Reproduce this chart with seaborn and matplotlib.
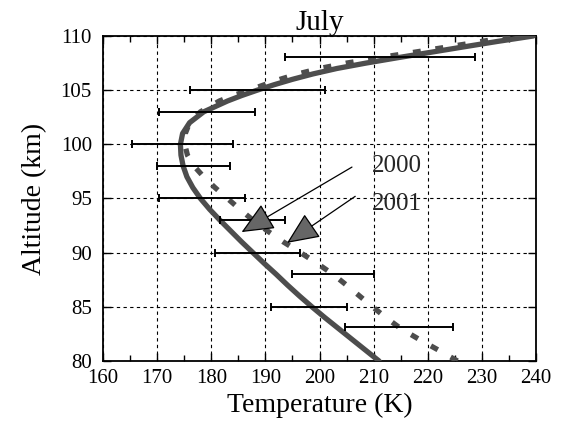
import matplotlib

matplotlib.use("Agg")
import matplotlib.pyplot as plt
import numpy as np
import pandas as pd
import seaborn as sns
from matplotlib.ticker import MultipleLocator

# 2000 profile (solid)
alt_2000 = [80, 81, 82, 83, 84, 85, 86, 87, 88, 89, 90, 91, 92, 93, 94, 95,
            96, 97, 98, 99, 100, 101, 102, 103, 104, 104.5, 105, 105.5, 106,
            106.5, 107, 107.5, 108, 108.5, 109, 109.5, 110]
temp_2000 = [211, 208.5, 206, 203.5, 201, 198.6, 196.3, 194.1, 192, 189.8,
             187.7, 185.6, 183.6, 181.6, 179.7, 178, 176.6, 175.5, 174.8,
             174.4, 174.3, 174.7, 176, 178.6, 183, 185.6, 188.5, 191.6, 195,
             198.8, 203.2, 208.6, 214.5, 220.6, 226.7, 232.9, 239.5]

# 2001 profile (dashed)
alt_2001 = [80, 81, 82, 83, 84, 85, 86, 87, 88, 89, 90, 91, 92, 93, 94, 95,
            96, 97, 98, 99, 100, 101, 102, 103, 104, 104.5, 105, 105.5, 106,
            106.5, 107, 107.5, 108, 108.5, 109, 109.5, 110]
temp_2001 = [225.5, 222, 218.4, 215, 212.3, 209.8, 207.4, 205, 202.5, 199.6,
             196.5, 193.3, 190.4, 187.7, 185.3, 183, 180.7, 178.6, 176.8,
             175.6, 175.1, 175.2, 176, 178, 181.5, 184, 187, 189.8, 192.7,
             196, 200, 205, 211, 217.5, 223.8, 230, 236]

# horizontal error bars (altitude, low, high)
err_alt = [108.1, 105, 103, 100, 98, 95, 93, 90, 88, 85, 83.1]
err_lo = [193.6, 176.0, 170.4, 165.4, 169.9, 170.4, 181.6, 180.7, 194.9, 191.0, 204.7]
err_hi = [228.8, 201.0, 188.1, 184.0, 183.5, 186.2, 193.6, 196.4, 210.1, 205.0, 224.7]

# arrow annotations: label, text position, arrow start, arrow tip
labels = ["2000", "2001"]
label_pos = [(209.7, 98.0), (209.7, 94.5)]
arrow_start = [(206.0, 97.9), (206.6, 95.2)]
arrow_tip = [(185.6, 91.9), (194.0, 90.9)]

df0 = pd.DataFrame({"T": temp_2000, "z": alt_2000})
df1 = pd.DataFrame({"T": temp_2001, "z": alt_2001})

sns.set_theme(style="ticks")
plt.rcParams["font.family"] = ["Liberation Serif", "DejaVu Serif"]

fig = plt.figure(figsize=(5.63, 4.26), dpi=100)
ax = fig.add_axes([0.183, 0.1526, 0.769, 0.7629])

ax.grid(True, which="major", color="black", linestyle=(0, (3, 3)), linewidth=0.8)
ax.set_axisbelow(True)

sns.lineplot(data=df0, x="T", y="z", sort=False, estimator=None,
             color="#4d4d4d", linewidth=3.8, ax=ax, zorder=3)
sns.lineplot(data=df1, x="T", y="z", sort=False, estimator=None,
             color="#4d4d4d", linewidth=3.8, linestyle=(0, (1.5, 2.8)),
             ax=ax, zorder=3)

lo = np.array(err_lo)
hi = np.array(err_hi)
ax.errorbar((lo + hi) / 2, err_alt, xerr=(hi - lo) / 2, fmt="none",
            ecolor="black", elinewidth=1.4, capsize=2.8, capthick=1.4, zorder=4)

for lab, tp, st, tip in zip(labels, label_pos, arrow_start, arrow_tip):
    ax.text(tp[0], tp[1], lab, fontsize=18, va="center", ha="left", zorder=5)
    ax.annotate("", xy=tip, xytext=st,
                arrowprops=dict(arrowstyle="-|>,head_length=1.7,head_width=0.75",
                                fc="#666666", ec="black", lw=0.9,
                                shrinkA=0, shrinkB=0),
                zorder=5)

ax.set_xlim(160, 240)
ax.set_ylim(80, 110)
ax.xaxis.set_major_locator(MultipleLocator(10))
ax.xaxis.set_minor_locator(MultipleLocator(5))
ax.yaxis.set_major_locator(MultipleLocator(5))
ax.tick_params(which="both", direction="in", top=True, right=True,
               labelsize=15, color="black", labelcolor="black")
ax.tick_params(which="major", length=6, width=1.0, pad=6)
ax.tick_params(which="minor", length=4, width=1.0)
ax.tick_params(axis="y", pad=8)
for s in ax.spines.values():
    s.set_linewidth(1.3)
    s.set_color("black")

ax.set_xlabel("Temperature (K)", fontsize=20, color="black", labelpad=3)
ax.set_ylabel("Altitude (km)", fontsize=20, color="black", labelpad=10)
ax.set_title("July", fontsize=21, color="black", pad=1)

fig.savefig("out.png", dpi=100)
